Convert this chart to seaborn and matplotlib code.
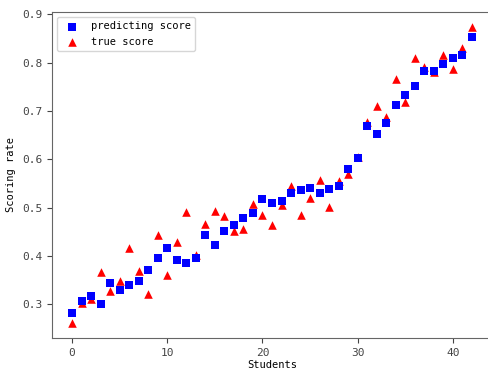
import matplotlib
matplotlib.use('Agg')
import matplotlib.pyplot as plt
import seaborn as sns
import pandas as pd

students = list(range(43))
predicting_score = [0.283, 0.306, 0.318, 0.300, 0.345, 0.330, 0.341, 0.349, 0.372, 0.395,
                    0.416, 0.392, 0.386, 0.396, 0.443, 0.423, 0.452, 0.465, 0.479, 0.488,
                    0.518, 0.510, 0.513, 0.531, 0.537, 0.541, 0.531, 0.539, 0.544, 0.580,
                    0.602, 0.668, 0.652, 0.676, 0.712, 0.733, 0.752, 0.782, 0.782, 0.798,
                    0.810, 0.815, 0.853]
true_score = [0.261, 0.302, 0.312, 0.367, 0.328, 0.349, 0.416, 0.369, 0.322, 0.444,
              0.360, 0.428, 0.490, 0.402, 0.466, 0.494, 0.483, 0.452, 0.455, 0.507,
              0.485, 0.464, 0.505, 0.544, 0.485, 0.519, 0.558, 0.502, 0.556, 0.570,
              0.605, 0.678, 0.711, 0.688, 0.767, 0.718, 0.810, 0.790, 0.780, 0.816,
              0.786, 0.831, 0.874]

plt.rcParams['font.family'] = ['DejaVu Sans Mono', 'DejaVu Sans']

df = pd.DataFrame({'student': students, 'pred': predicting_score, 'true': true_score})

fig = plt.figure(figsize=(4.89, 3.74), dpi=100)
ax = fig.add_axes([52 / 489, 36 / 374, 440 / 489, 326 / 374])

sns.scatterplot(data=df, x='student', y='pred', marker='s', color='blue', s=38,
                linewidth=0, label='predicting score', zorder=3, ax=ax)
sns.scatterplot(data=df, x='student', y='true', marker='^', color='red', s=38,
                linewidth=0, label='true score', zorder=2, ax=ax)

ax.set_xlabel('Students', fontsize=7.5, labelpad=2)
ax.set_ylabel('Scoring rate', fontsize=7.5)
ax.tick_params(labelsize=8, colors='#444444')
for sp in ax.spines.values():
    sp.set_color('#666666')
ax.spines['right'].set_visible(False)
ax.legend(loc='upper left', fontsize=7.5, edgecolor='#cccccc')

plt.savefig('out.png', dpi=100)
